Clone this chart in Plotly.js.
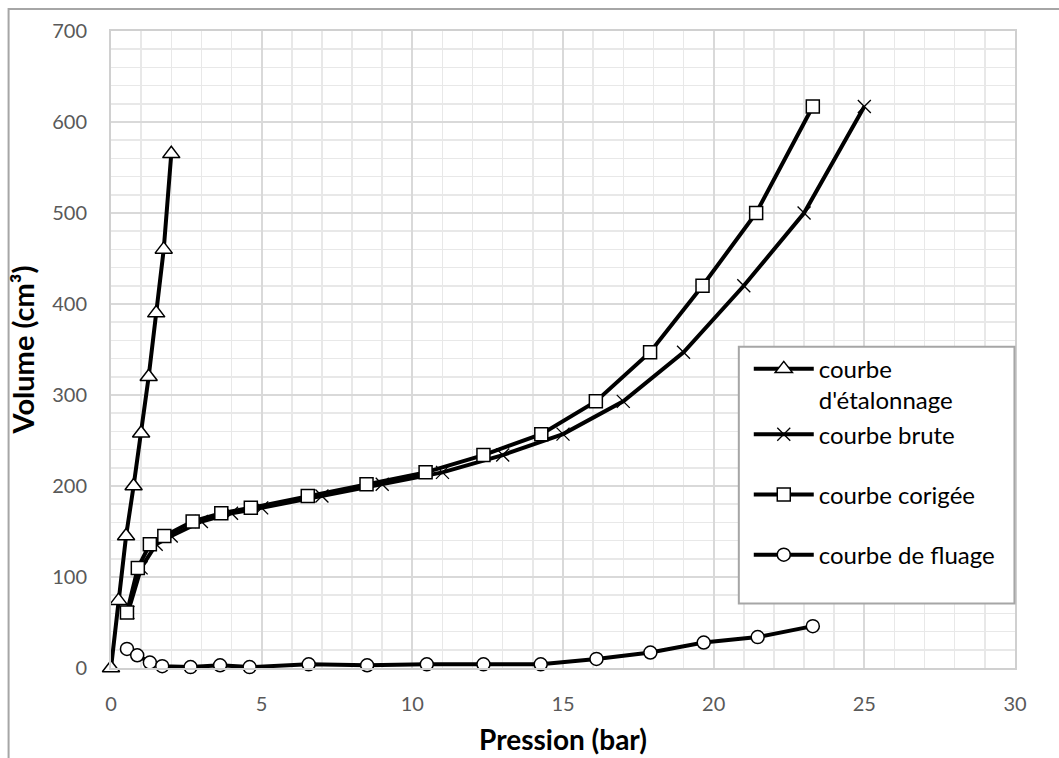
<!DOCTYPE html>
<html>
<head>
<meta charset="utf-8">
<script src="https://cdn.plot.ly/plotly-3.0.1.min.js"></script>
<style>html,body{margin:0;padding:0;background:#fff;} #chart{width:1059px;height:758px;}</style>
</head>
<body>
<div id="chart"></div>
<script>
// courbe d'étalonnage
const etalP = [0, 0.25, 0.5, 0.75, 1.0, 1.25, 1.5, 1.75, 2.0];
const etalV = [0, 74, 145, 200, 258, 320, 390, 460, 565];
// courbe brute
const bruteP = [0.56, 1.0, 1.5, 2.0, 3, 4, 5, 7, 9, 11, 13, 15, 17, 19, 21, 23, 25];
const bruteV = [61, 110, 136, 145, 161, 170, 176, 189, 202, 215, 234, 257, 293, 347, 420, 500, 617];
// courbe corigée
const corrP = [0.53, 0.89, 1.29, 1.77, 2.71, 3.66, 4.64, 6.53, 8.48, 10.44, 12.36, 14.28, 16.09, 17.89, 19.63, 21.41, 23.29];
const corrV = [61, 110, 136, 145, 161, 170, 176, 189, 202, 215, 234, 257, 293, 347, 420, 500, 617];
// courbe de fluage
const flP = [0.53, 0.87, 1.29, 1.7, 2.64, 3.62, 4.6, 6.56, 8.5, 10.48, 12.36, 14.26, 16.11, 17.9, 19.67, 21.46, 23.29];
const flV = [21, 14, 6, 2, 1, 3, 1, 4, 3, 4, 4, 4, 10, 17, 28, 34, 46];

const names = ["courbe<br>d'étalonnage", "courbe brute", "courbe corigée", "courbe de fluage"];

const FONT = "Lato, 'Open Sans', sans-serif";

function tr(x, y, name, sym, size, grp, xline) {
  return {
    type: 'scatter', mode: 'lines+markers', x: x, y: y, name: name,
    legendgroup: grp, cliponaxis: false,
    line: {color: '#000000', width: 4},
    marker: {symbol: sym, size: size, color: '#ffffff',
             line: {color: '#000000', width: xline || 1.5}}
  };
}

const data = [
  tr(etalP, etalV, names[0], 'triangle-up', 15, 'a'),
  tr(bruteP, bruteV, names[1], 'x-thin', 13, 'a', 1.3),
  tr(corrP, corrV, names[2], 'square', 13, 'b'),
  tr(flP, flV, names[3], 'circle', 13, 'c')
];
data[1].marker.color = '#000000';

const layout = {
  width: 1059, height: 758,
  margin: {l: 110.5, r: 44, t: 31, b: 89.5},
  paper_bgcolor: '#ffffff', plot_bgcolor: '#ffffff',
  font: {family: FONT, color: '#595959', size: 20},
  showlegend: true,
  legend: {
    x: 0.7055, y: 0.5043, xanchor: 'left', yanchor: 'top',
    bgcolor: 'rgba(0,0,0,0)', borderwidth: 0,
    font: {family: FONT, size: 24, color: '#000000'},
    tracegroupgap: 26, valign: 'top', itemwidth: 60
  },
  xaxis: {
    range: [0, 30], dtick: 5, tick0: 0,
    showgrid: true, gridcolor: '#d9d9d9', gridwidth: 2,
    minor: {dtick: 1, showgrid: true, gridcolor: '#e8e8e8', gridwidth: 1.5},
    zeroline: false, showline: true, mirror: true, linecolor: '#d0d0d0', linewidth: 2,
    ticks: '', ticklabelstandoff: 17,
    tickfont: {family: FONT, size: 20, color: '#595959'},
    title: {text: 'Pression (bar)', font: {family: FONT, size: 28, color: '#000000', weight: 'bold'}, standoff: 16}
  },
  yaxis: {
    range: [0, 700], dtick: 100, tick0: 0,
    showgrid: true, gridcolor: '#d9d9d9', gridwidth: 2,
    minor: {dtick: 20, showgrid: true, gridcolor: '#e8e8e8', gridwidth: 1.5},
    zeroline: false, showline: true, mirror: true, linecolor: '#d0d0d0', linewidth: 2,
    ticks: '', ticklabelstandoff: 18,
    tickfont: {family: FONT, size: 20, color: '#595959'},
    title: {text: 'Volume (cm³)', font: {family: FONT, size: 29, color: '#000000', weight: 'bold'}, standoff: 9}
  },
  shapes: [
    {
      type: 'rect', xref: 'paper', yref: 'paper', layer: 'below',
      x0: -0.1133, x1: 1.06, y0: -0.2, y1: 1.0345,
      line: {color: '#a6a6a6', width: 2}, fillcolor: 'rgba(0,0,0,0)'
    },
    {
      type: 'rect', xref: 'paper', yref: 'paper', layer: 'above',
      x0: 0.6945, x1: 0.9994, y0: 0.1012, y1: 0.5043,
      line: {color: '#a6a6a6', width: 2}, fillcolor: '#ffffff'
    }
  ]
};

Plotly.newPlot('chart', data, layout, {displayModeBar: false, staticPlot: true});
</script>
</body>
</html>
